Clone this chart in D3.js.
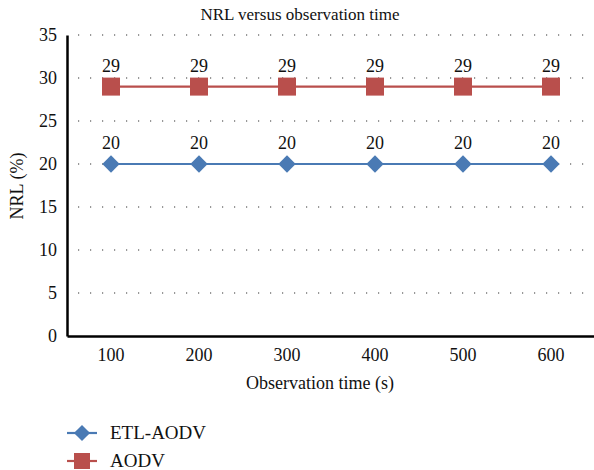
<!DOCTYPE html>
<html><head><meta charset="utf-8">
<script src="https://cdn.jsdelivr.net/npm/d3@7"></script>
</head><body style="margin:0">
<svg width="594" height="470" id="s">
<text x="300" y="20" text-anchor="middle" style="font-family:'Liberation Serif';font-size:17px" fill="#111">NRL versus observation time</text>
</svg>
<script>
const categories = ["100","200","300","400","500","600"];
const etlAodv = [20,20,20,20,20,20];
const aodv = [29,29,29,29,29,29];
const yTicks = [0,5,10,15,20,25,30,35];
const seriesNames = ["ETL-AODV","AODV"];
const colors = ["#4a7ab4","#b94f4c"];

const svg = d3.select("#s");
const x = d3.scaleBand().domain(categories).range([67,595]);
const y = d3.scaleLinear().domain([0,35]).range([336,35]);
const cx = d => x(d)+x.bandwidth()/2;
function txt(sel, size){ return sel.attr("style","font-family:'Liberation Serif';font-size:"+size+"px").attr("fill","#111"); }

// gridlines
svg.append("g").selectAll("line").data(yTicks.filter(t=>t>0)).join("line")
  .attr("x1",78).attr("x2",586).attr("y1",d=>y(d)).attr("y2",d=>y(d))
  .attr("stroke","#333").attr("stroke-width",1.2).attr("stroke-dasharray","1.2,10.8");

// axes
const ya = svg.append("g").attr("transform","translate(67,0)").call(d3.axisLeft(y).tickValues(yTicks).tickSize(0).tickPadding(10));
const xa = svg.append("g").attr("transform","translate(0,336)").call(d3.axisBottom(x).tickSize(0).tickPadding(12));
[ya,xa].forEach(a=>{
  a.attr("font-family",null).attr("font-size",null);
  a.select(".domain").attr("stroke","#000").attr("stroke-width",2.5).attr("class",null);
  a.selectAll("g").attr("class",null);
  txt(a.selectAll("text"),18);
});

txt(svg.append("text").attr("transform","translate(23,186) rotate(-90)").attr("text-anchor","middle"),18).text("NRL (%)");
txt(svg.append("text").attr("x",320).attr("y",389).attr("text-anchor","middle"),18).text("Observation time (s)");

const series = [etlAodv, aodv];
const line = d3.line().x((d,i)=>cx(categories[i])).y(d=>y(d));
series.forEach((vals,si)=>{
  const g = svg.append("g");
  g.append("path").datum(vals).attr("d",line).attr("fill","none").attr("stroke",colors[si]).attr("stroke-width",2.2);
  if(si===0){
    g.selectAll("path.m").data(vals).join("path")
      .attr("transform",(d,i)=>`translate(${cx(categories[i])},${y(d)}) rotate(45)`)
      .attr("d",d3.symbol().type(d3.symbolSquare).size(150)).attr("fill",colors[si]);
  } else {
    g.selectAll("rect.m").data(vals).join("rect")
      .attr("x",(d,i)=>cx(categories[i])-9).attr("y",d=>y(d)-9).attr("width",18).attr("height",18).attr("fill",colors[si]);
  }
  txt(g.selectAll("text").data(vals).join("text")
    .attr("x",(d,i)=>cx(categories[i])).attr("y",d=>y(d)-15).attr("text-anchor","middle"),18).text(d=>d);
});

// legend
seriesNames.forEach((n,si)=>{
  const ly = 433 + si*28;
  const g = svg.append("g");
  g.append("line").attr("x1",67).attr("x2",97).attr("y1",ly).attr("y2",ly).attr("stroke",colors[si]).attr("stroke-width",2.2);
  if(si===0){
    g.append("path").attr("transform",`translate(82,${ly}) rotate(45)`).attr("d",d3.symbol().type(d3.symbolSquare).size(130)).attr("fill",colors[si]);
  } else {
    g.append("rect").attr("x",82-8).attr("y",ly-8).attr("width",16).attr("height",16).attr("fill",colors[si]);
  }
  txt(g.append("text").attr("x",110).attr("y",ly+6),19).text(n);
});
</script></body></html>
